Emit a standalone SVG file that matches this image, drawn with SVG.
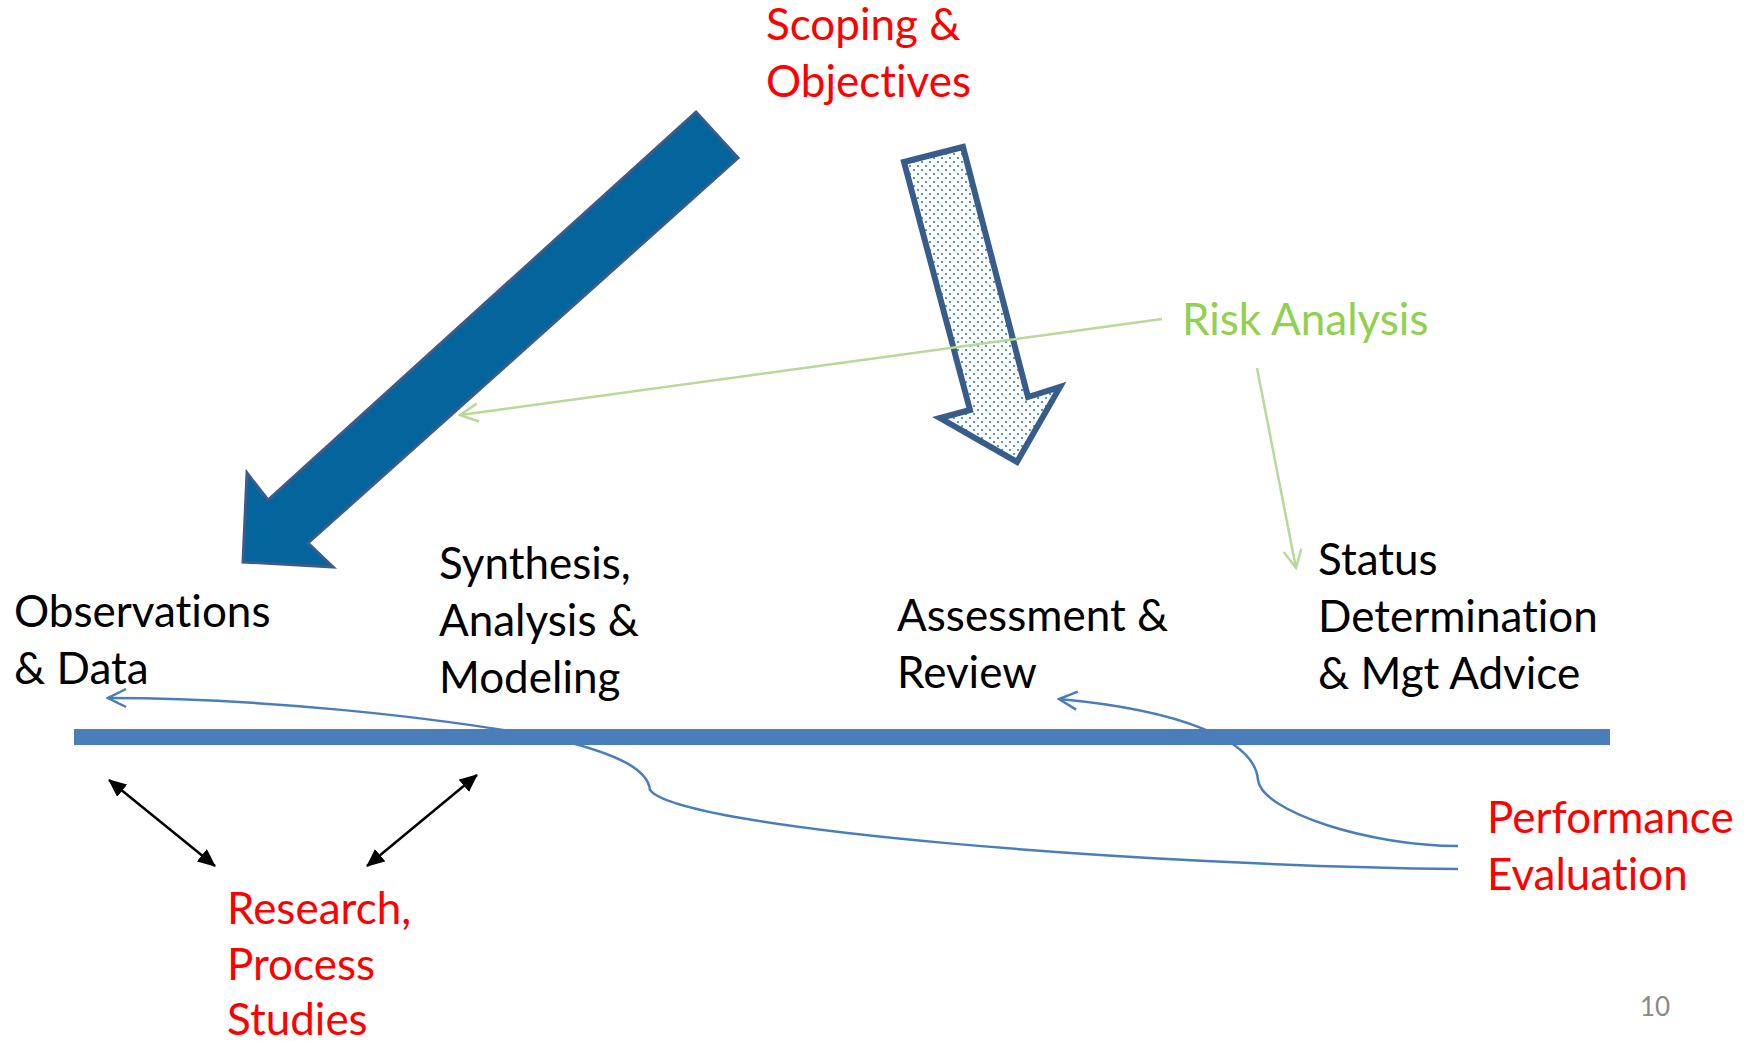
<svg xmlns="http://www.w3.org/2000/svg" width="1752" height="1041" viewBox="0 0 1752 1041">
  <defs>
    <style>
      text { font-family: Lato, "Liberation Sans", sans-serif; font-size: 44px; font-variant-ligatures: none; }
      .red { fill: #FF0000; }
      .blk { fill: #000000; }
      .grn { fill: #92D050; }
      .pg { fill: #898989; font-size: 26px; }
      .flow { fill: none; stroke: #4A7EBB; stroke-width: 2.5; marker-end: url(#openBlue); }
      .risk { fill: none; stroke: #B9D89A; stroke-width: 2.5; marker-end: url(#openGreen); }
      .link { fill: none; stroke: #000000; stroke-width: 2.5; marker-start: url(#solidBlack); marker-end: url(#solidBlack); }
    </style>
    <!-- dotted fill for the hollow arrow -->
    <pattern id="dots" width="8" height="8" patternUnits="userSpaceOnUse">
      <rect width="8" height="8" fill="#FFFFFF"/>
      <circle cx="2" cy="2" r="1.1" fill="#2F7CB4"/>
      <circle cx="6" cy="6" r="1.1" fill="#2F7CB4"/>
    </pattern>
    <marker id="openBlue" markerUnits="userSpaceOnUse" viewBox="0 0 22 22" markerWidth="22" markerHeight="22" refX="20" refY="11" orient="auto">
      <path d="M2,2 L20,11 L2,20" fill="none" stroke="#4A7EBB" stroke-width="2.5"/>
    </marker>
    <marker id="openGreen" markerUnits="userSpaceOnUse" viewBox="0 0 22 22" markerWidth="22" markerHeight="22" refX="20" refY="11" orient="auto">
      <path d="M2,2 L20,11 L2,20" fill="none" stroke="#B9D89A" stroke-width="2.5"/>
    </marker>
    <marker id="solidBlack" markerUnits="userSpaceOnUse" viewBox="0 0 18 16" markerWidth="18" markerHeight="16" refX="17" refY="8" orient="auto-start-reverse">
      <path d="M0,0 L18,8 L0,16 z" fill="#000000"/>
    </marker>
  </defs>

  <rect width="1752" height="1041" fill="#FFFFFF"/>

  <!-- timeline bar -->
  <g id="timeline">
    <rect x="74" y="729" width="1536" height="16" fill="#4A7EBB"/>
  </g>

  <!-- broad solid arrow from scoping to observations -->
  <g id="arrow-observations">
    <path d="M696,112 L738,158 L308,543 L333,567 L243,562 L247,473 L268,500 Z" fill="#03659B" stroke="#3B5B8C" stroke-width="3" stroke-linejoin="miter"/>
  </g>

  <!-- hollow dotted arrow from scoping to assessment -->
  <g id="arrow-assessment">
    <path d="M904,162 L963,147 L1028,397 L1060,387 L1017,462 L940,418 L970,410 Z" fill="url(#dots)" stroke="#385D8A" stroke-width="6" stroke-linejoin="miter"/>
  </g>

  <!-- connectors -->
  <g id="connectors">
    <path class="risk" d="M1162,319 L460,415"/>
    <path class="risk" d="M1257,368 L1296,568"/>
    <path class="flow" d="M1458,869 C1150,866 680,830 650,790 C648,770 620,755 560,740 C430,715 250,698 108,698"/>
    <path class="flow" d="M1458,846 C1370,846 1262,812 1258,780 C1255,740 1180,710 1059,699"/>
    <path class="link" d="M109,780 L215,866"/>
    <path class="link" d="M477,775 L367,866"/>
  </g>

  <g id="scoping">
    <text class="red" x="766" y="40">Scoping &amp;</text>
    <text class="red" x="766" y="97">Objectives</text>
  </g>
  <g id="risk-analysis">
    <text class="grn" x="1182" y="335">Risk Analysis</text>
  </g>
  <g id="observations">
    <text class="blk" x="14" y="627">Observations</text>
    <text class="blk" x="14" y="684">&amp; Data</text>
  </g>
  <g id="synthesis">
    <text class="blk" x="439" y="579">Synthesis,</text>
    <text class="blk" x="439" y="636">Analysis &amp;</text>
    <text class="blk" x="439" y="693">Modeling</text>
  </g>
  <g id="assessment">
    <text class="blk" x="897" y="631">Assessment &amp;</text>
    <text class="blk" x="897" y="688">Review</text>
  </g>
  <g id="status">
    <text class="blk" x="1318" y="575">Status</text>
    <text class="blk" x="1318" y="632">Determination</text>
    <text class="blk" x="1318" y="689">&amp; Mgt Advice</text>
  </g>
  <g id="performance">
    <text class="red" x="1487" y="833">Performance</text>
    <text class="red" x="1487" y="890">Evaluation</text>
  </g>
  <g id="research">
    <text class="red" x="227" y="924">Research,</text>
    <text class="red" x="227" y="980">Process</text>
    <text class="red" x="227" y="1035">Studies</text>
  </g>
  <g id="page-number">
    <text class="pg" x="1640" y="1016">10</text>
  </g>
</svg>
